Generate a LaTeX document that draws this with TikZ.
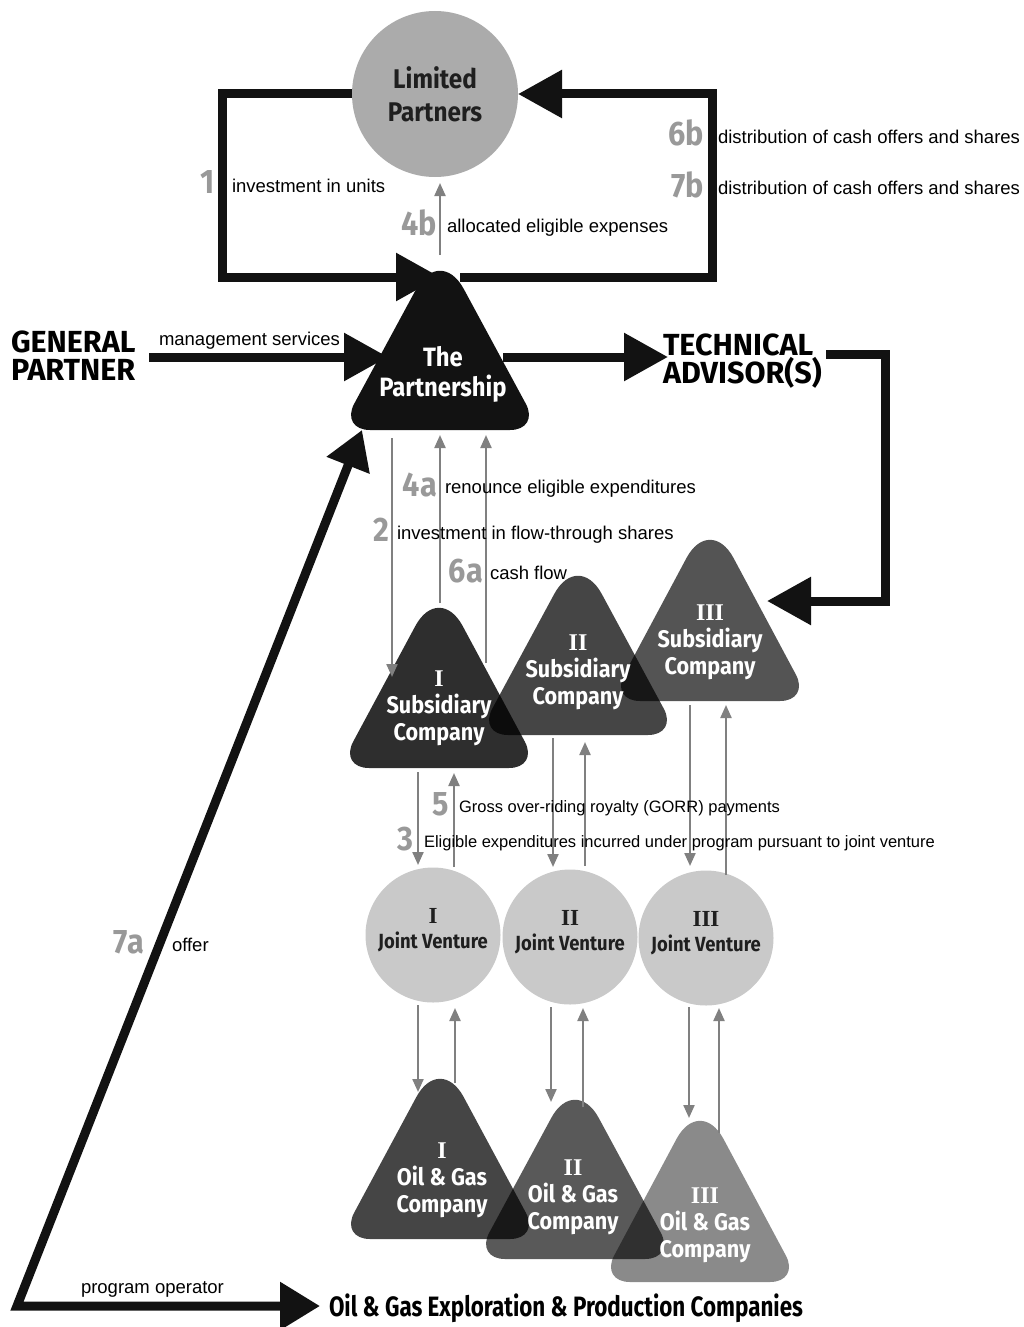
\documentclass[tikz,border=0pt]{standalone}
\usepackage{fontspec}
\setmainfont{Liberation Sans}
\newfontfamily\condfont[FakeStretch=0.9]{Fira Sans}
\newfontfamily\widefont{Fira Sans}
\newfontfamily\narrowfont[FakeStretch=0.8]{Fira Sans}
\newfontfamily\romfont{Liberation Serif}
\usetikzlibrary{arrows.meta}
\definecolor{numgray}{gray}{0.6}
\definecolor{flowgray}{gray}{0.5}
\definecolor{lpgray}{gray}{0.67}
\definecolor{jvgray}{gray}{0.79}

\begin{document}
\begin{tikzpicture}[x=1pt,y=-1pt,
    line join=miter, line cap=butt,
    every node/.style={inner sep=0pt,outer sep=0pt},
    lab/.style={font=\fontsize{18.5}{21}\selectfont,anchor=west},
    num/.style={font=\condfont\bfseries\fontsize{34}{36}\selectfont,text=numgray,anchor=east},
    heading/.style={font=\widefont\bfseries\fontsize{30.5}{28}\selectfont,align=left,anchor=west},
    tritxt/.style={font=\condfont\bfseries\fontsize{24}{27}\selectfont,text=white,align=center},
    rnd/.style={font=\condfont\bfseries\fontsize{20.5}{25}\selectfont,text=black!88,align=center},
    bigline/.style={line width=9pt,draw=black!93},
    bighead/.style={bigline,-{Triangle[length=44pt,width=46pt]}},
    flow/.style={draw=flowgray,line width=2.2pt,-{Triangle[length=13pt,width=11pt]}},
    tri/.style={rounded corners=30pt}]
  \useasboundingbox (0,0) rectangle (1024,1327);
  % ---- Limited Partners ----
  \node[circle,fill=lpgray,minimum size=166pt,rnd,font=\condfont\bfseries\fontsize{27}{33}\selectfont]
       (LP) at (435,94) {Limited\\Partners};
  % ---- The Partnership ----
  \fill[tri,black!93] (440,430) -- (540,430) [rounded corners=50pt] -- (440,245)
       [rounded corners=30pt] -- (340,430) -- cycle;
  \node[tritxt,font=\condfont\bfseries\fontsize{26.5}{30}\selectfont] (PT) at (443,374) {The\\Partnership};
  \coordinate (PA) at (440,277);   % apex
  \coordinate (PR) at (460,277);
  \coordinate (PL) at (388,357);
  \coordinate (PE) at (503,357);
  \coordinate (PB) at (362,430);
  % ---- outside parties ----
  \node[heading] (GP) at (11,356) {GENERAL\\PARTNER};
  \node[heading] (TA) at (663,361) {TECHNICAL\\ADVISOR(S)};
  \node[font=\narrowfont\bfseries\fontsize{28}{28}\selectfont,anchor=west] (OGE) at (329,1308)
       {Oil \& Gas Exploration \& Production Companies};
  \coordinate (GPe) at (149,357);
  \coordinate (TAw) at (668,357);
  \coordinate (TAe) at (826,354);
  \coordinate (TAc) at (885,354);
  \coordinate (S3r) at (767,601);
  \coordinate (BL)  at (17,1306);
  \coordinate (OGw) at (320,1306);
  % ---- subsidiary companies (centre / top / bottom / shade) ----
  \foreach \cx/\ty/\by/\op in {439/612/768/0.82, 578/580/735/0.73, 710/544/701/0.67}
    \fill[tri,black,fill opacity=\op] (\cx,\by) -- (\cx+100,\by) [rounded corners=50pt] -- (\cx,\ty-30)
         [rounded corners=30pt] -- (\cx-100,\by) -- cycle;
  \node[tritxt] (S1) at (439,708) {{\romfont I}\\Subsidiary\\Company};
  \node[tritxt] (S2) at (578,672) {{\romfont II}\\Subsidiary\\Company};
  \node[tritxt] (S3) at (710,642) {{\romfont III}\\Subsidiary\\Company};
  % ---- joint ventures ----
  \node[circle,fill=jvgray,minimum size=135pt] (JV1) at (433,935) {};
  \node[circle,fill=jvgray,minimum size=135pt] (JV2) at (570,937) {};
  \node[circle,fill=jvgray,minimum size=135pt] (JV3) at (706,938) {};
  \node[rnd] (JV1t) at (433,930) {{\romfont\fontsize{23}{25}\selectfont I}\\Joint Venture};
  \node[rnd] (JV2t) at (570,932) {{\romfont\fontsize{23}{25}\selectfont II}\\Joint Venture};
  \node[rnd] (JV3t) at (706,933) {{\romfont\fontsize{23}{25}\selectfont III}\\Joint Venture};
  % ---- oil & gas companies ----
  \foreach \cx/\ty/\by/\op in {440/1083/1239/0.73, 575/1104/1259/0.65, 700/1125/1282/0.46}
    \fill[tri,black,fill opacity=\op] (\cx,\by) -- (\cx+100,\by) [rounded corners=50pt] -- (\cx,\ty-30)
         [rounded corners=30pt] -- (\cx-100,\by) -- cycle;
  \node[tritxt] (O1) at (442,1180) {{\romfont I}\\Oil \& Gas\\Company};
  \node[tritxt] (O2) at (573,1197) {{\romfont II}\\Oil \& Gas\\Company};
  \node[tritxt] (O3) at (705,1225) {{\romfont III}\\Oil \& Gas\\Company};
  % ---- black flows ----
  \draw[bighead] (LP.west) -| (222,277) -- (PA);
  \draw[bighead] (PR) -| (712,94) -- (LP.east);
  \draw[bighead] (GPe) -- (PL);
  \draw[bighead] (PE) -- (TAw);
  \draw[bighead] (TAe) -| (TAc |- S3r) -- (S3r);
  \draw[bigline,{Triangle[length=38pt,width=44pt]}-{Triangle[length=40pt,width=46pt]}]
       (PB) -- (BL) -- (OGw);
  % ---- grey flows (numbered) ----
  \coordinate (f2a) at (392,438);  \coordinate (f2b) at (392,677);
  \coordinate (f4a) at (440,603);  \coordinate (f4b) at (440,435);
  \coordinate (f6a) at (486,663);  \coordinate (f6b) at (486,435);
  \coordinate (g4a) at (440,255);  \coordinate (g4b) at (440,183);
  \draw[flow] (g4a) -- (g4b);
  \draw[flow] (f2a) -- (f2b);
  \draw[flow] (f4a) -- (f4b);
  \draw[flow] (f6a) -- (f6b);
  \foreach \xd/\xu/\ya/\yb/\yc/\yd in {418/454/772/865/867/773,
                                      553/585/738/867/866/742,
                                      690/726/705/866/875/705,
                                      418/455/1005/1092/1083/1008,
                                      551/583/1007/1102/1107/1008,
                                      689/719/1007/1118/1133/1008}{
    \draw[flow] (\xd,\ya) -- (\xd,\yb);
    \draw[flow] (\xu,\yc) -- (\xu,\yd);
  }
  % ---- labels ----
  \node[num] (n1)  at (215,182) {1};
  \node[lab] (t1)  at (232,186) {investment in units};
  \node[num] (n4b) at (437,223) {4b};
  \node[lab] (t4b) at (447,228) {allocated eligible expenses};
  \node[num] (n6b) at (704,133) {6b};
  \node[lab] (t6b) at (718,137) {distribution of cash offers and shares};
  \node[num] (n7b) at (704,185) {7b};
  \node[lab] (t7b) at (718,188) {distribution of cash offers and shares};
  \node[lab] (tms) at (159,341) {management services};
  \node[num] (n4a) at (437,485) {4a};
  \node[lab] (t4a) at (445,489) {renounce eligible expenditures};
  \node[num] (n2)  at (389,530) {2};
  \node[lab] (t2)  at (397,535) {investment in flow-through shares};
  \node[num] (n6a) at (483,571) {6a};
  \node[lab] (t6a) at (490,573) {cash flow};
  \node[num] (n5)  at (449,804) {5};
  \node[lab,font=\fontsize{16.5}{18}\selectfont] (t5) at (459,808) {Gross over-riding royalty (GORR) payments};
  \node[num] (n3)  at (413,839) {3};
  \node[lab,font=\fontsize{16.5}{18}\selectfont] (t3) at (424,843)
       {Eligible expenditures incurred under program pursuant to joint venture};
  \node[num] (n7a) at (144,942) {7a};
  \node[lab] (t7a) at (172,945) {offer};
  \node[lab] (tpo) at (81,1289) {program operator};
\end{tikzpicture}
\end{document}
